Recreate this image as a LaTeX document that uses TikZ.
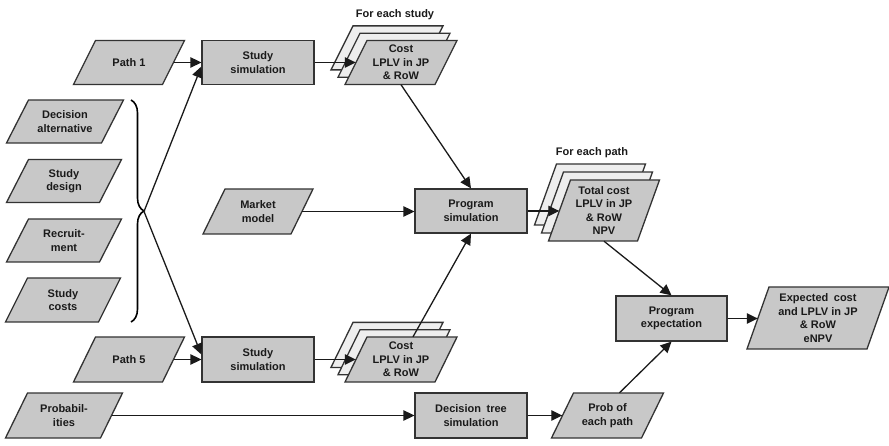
\documentclass[tikz,border=0pt]{standalone}
\usepackage{fontspec}
\setmainfont{Liberation Sans}
\usetikzlibrary{arrows.meta,decorations.pathreplacing}

\definecolor{boxfill}{HTML}{C8C8C8}
\definecolor{sheetfill}{HTML}{EEEEEE}
\definecolor{edge}{HTML}{333333}
\definecolor{ink}{HTML}{1A1A1A}

\tikzset{
  labelfont/.style={font=\fontsize{11}{13.5}\selectfont\bfseries, text=ink},
  proc/.style={labelfont, draw=edge, line width=1.3pt, fill=boxfill,
    inner sep=0pt, align=center},
  datatext/.style={labelfont, inner sep=0pt, align=center},
  sheet/.style={draw=edge, line width=1.3pt, line join=miter},
  flow/.style={draw=ink, line width=1.3pt, -{Triangle[length=11pt,width=10.5pt]}},
  caption/.style={labelfont, inner sep=0pt},
}

% slanted data shape: centre (#1,#2), edge width #3, height #4, fill #5
\newcommand\slantshape[5]{%
  \path[sheet, fill=#5]
    ({#1-#3/2-11},{#2+#4/2}) -- ({#1+#3/2-11},{#2+#4/2}) --
    ({#1+#3/2+11},{#2-#4/2}) -- ({#1-#3/2+11},{#2-#4/2}) -- cycle;}
% named slanted data node: name, cx, cy, width, height, text
\newcommand\dataslab[6]{%
  \slantshape{#2}{#3}{#4}{#5}{boxfill}
  \node[datatext, minimum width=#4pt, minimum height=#5pt] (#1) at (#2,#3) {#6};}
% stack of three sheets: name, cx, cy, width, height, dx, dy, text
\newcommand\datastack[8]{%
  \slantshape{#2-2*#6}{#3-2*#7}{#4}{#5}{sheetfill}
  \slantshape{#2-#6}{#3-#7}{#4}{#5}{sheetfill}
  \dataslab{#1}{#2}{#3}{#4}{#5}{#8}}

\begin{document}
\begin{tikzpicture}[x=1pt,y=-1pt]
\useasboundingbox (0,0) rectangle (889,446);

% inputs on the left
\dataslab{p1}{129}{62.5}{89}{44}{Path 1}
\dataslab{da}{65}{121.5}{95}{43}{Decision\\alternative}
\dataslab{sd}{64}{181}{93}{43}{Study\\design}
\dataslab{rc}{64}{240.5}{93}{43}{Recruit-\\ment}
\dataslab{sc}{63}{300}{93}{44}{Study\\costs}
\dataslab{p5}{129}{359.5}{89}{45}{Path 5}
\dataslab{pr}{64}{415.5}{95}{45}{Probabil-\\ities}
\dataslab{mm}{258}{211.5}{88}{45}{Market\\model}

% brace grouping the study inputs
\draw[black, line width=1.6pt, decorate, decoration={brace, amplitude=13pt}]
  (131,100) -- (131,322);
\coordinate (bt) at (144,211.5);

% processes
\node[proc, minimum width=112pt, minimum height=44.5pt] (s1) at (258,62.5) {Study\\simulation};
\node[proc, minimum width=112pt, minimum height=45pt] (s2) at (258,359.5) {Study\\simulation};
\node[proc, minimum width=112pt, minimum height=44pt] (ps) at (471,211) {Program\\simulation};
\node[proc, minimum width=112pt, minimum height=45pt] (dt) at (471,415.5) {Decision\enspace tree\\simulation};
\node[proc, minimum width=111pt, minimum height=45pt] (pe) at (671.5,318.5) {Program\\expectation};

% outputs
\datastack{c1}{401}{62.5}{90}{44}{7}{7.3}{Cost\\LPLV in JP\\\& RoW}
\datastack{c2}{401}{359.5}{90}{45}{7}{7.3}{Cost\\LPLV in JP\\\& RoW}
\datastack{tc}{604}{210.5}{89}{61}{7}{8}{Total cost\\LPLV in JP\\\& RoW\\NPV}
\dataslab{pp}{607.5}{415.5}{90}{45}{Prob of\\each path}
\dataslab{ec}{818}{318}{120}{62}{Expected\enspace cost\\and LPLV in JP\\\& RoW\\eNPV}

\node[caption] (fs) at (395,15) {For each study};
\node[caption] (fp) at (592,153) {For each path};

% connectors
\draw[flow] (p1.east) -- (s1.west);
\draw[flow] (p5.east) -- (s2.west);
\draw[flow] (bt) -- ([yshift=-4pt]s1.west);
\draw[flow] (bt) -- ([yshift=5pt]s2.west);
\draw[flow] (s1.east) -- (c1.west);
\draw[flow] (s2.east) -- (c2.west);
\draw[flow] (c1.south) -- (ps.north);
\draw[flow] ([xshift=12pt]c2.north) -- (ps.south);
\draw[flow] (mm.east) -- (mm.east -| ps.west);
\draw[flow] (ps.east) -- (ps.east -| tc.west);
\draw[flow] (tc.south) -- (pe.north);
\draw[flow] (pr.east) -- (dt.west);
\draw[flow] (dt.east) -- (pp.west);
\draw[flow] ([xshift=12pt]pp.north) -- (pe.south);
\draw[flow] (pe.east) -- (pe.east -| ec.west);
\end{tikzpicture}
\end{document}
